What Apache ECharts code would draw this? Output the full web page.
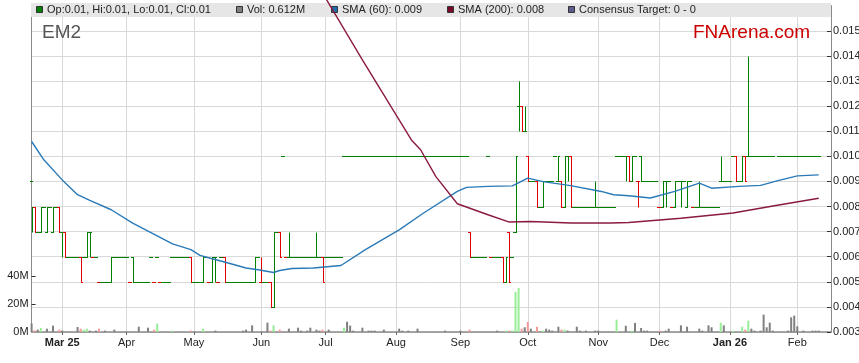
<!DOCTYPE html>
<html>
<head>
<meta charset="utf-8">
<script src="https://cdn.jsdelivr.net/npm/echarts@6/dist/echarts.min.js"></script>
<style>html,body{margin:0;padding:0;background:#fff}#c{width:859px;height:363px}</style>
</head>
<body>
<div id="c"></div>
<script>
// ---- data ----
const startDate = '2025-02-17';   // first weekday on the axis
const dayCount = 262;             // weekdays on the axis
const tickDates  = ['2025-03-03','2025-04-01','2025-05-01','2025-06-02','2025-07-01','2025-08-01','2025-09-01','2025-10-01','2025-11-03','2025-12-01','2026-01-01','2026-02-02'];
const tickLabels = ['Mar 25','Apr','May','Jun','Jul','Aug','Sep','Oct','Nov','Dec','Jan 26','Feb'];
const boldLabels = ['Mar 25','Jan 26'];

// daily bars by weekday index: [day, open, high, low, close] or [day, price] for a one-price day
const bars = [
[0,.009,.008,.007,.008],[1,.008,.008,.007,.007],[2,.007],[3,.007,.008,.007,.008],[4,.008],
[5,.007,.008,.007,.008],[6,.008],[7,.007,.008,.007,.008],[8,.008],[9,.008,.008,.007,.007],
[10,.007,.007,.006,.007],[11,.007,.007,.006,.006],[12,.006],[13,.006],[14,.006],
[15,.006],[16,.006,.006,.005,.005],[17,.006],[18,.006,.007,.006,.007],[19,.007,.007,.006,.007],
[20,.006],[21,.006],[22,.005],[23,.005],[24,.005],
[25,.005],[26,.005,.006,.005,.006],[27,.006],[28,.006],[29,.006],
[30,.006],[31,.006],[32,.005],[33,.006,.006,.005,.005],[34,.005],
[35,.005],[36,.005],[37,.005],[38,.005],[39,.006],
[40,.005],[41,.006],[42,.005],[43,.005],[44,.005],
[45,.005],[46,.006],[47,.006],[48,.006],[49,.006],
[50,.006],[51,.006],[52,.006,.006,.005,.005],[53,.005],[54,.005],
[55,.005],[56,.005,.006,.005,.006],[57,.006],[58,.005],[59,.005,.006,.005,.006],
[60,.006,.006,.005,.006],[61,.005],[62,.006],[63,.006,.006,.005,.005],[64,.005],
[65,.005],[66,.005],[67,.005],[68,.005],[69,.005],
[70,.005],[71,.005],[72,.005],[73,.005,.006,.005,.006],[74,.006],
[75,.005,.006,.005,.005],[76,.005],[77,.005],[78,.005,.005,.004,.004],[79,.004,.007,.004,.007],
[80,.007],[81,.007,.007,.006,.006],[82,.010],[83,.006],[84,.006,.007,.006,.006],
[85,.006],[86,.006],[87,.006],[88,.006],[89,.006],
[90,.006],[91,.006],[92,.006],[93,.006,.007,.006,.006],[94,.006],
[95,.006,.006,.005,.005],[96,.006],[97,.006],[98,.006],[99,.006],
[100,.006],[101,.006],[102,.010],[103,.010],[104,.010],
[105,.010],[106,.010],[107,.010],[108,.010],[109,.010],
[110,.010],[111,.010],[112,.010],[113,.010],[114,.010],
[115,.010],[116,.010],[117,.010],[118,.010],[119,.010],
[120,.010],[121,.010],[122,.010],[123,.010],[124,.010],
[125,.010],[126,.010],[127,.010],[128,.010],[129,.010],
[130,.010],[131,.010],[132,.010],[133,.010],[134,.010],
[135,.010],[136,.010],[137,.010],[138,.010],[139,.010],
[140,.010],[141,.010],[142,.010],[143,.007,.007,.006,.006],[144,.006],
[145,.006],[146,.006],[147,.006],[148,.006],[149,.010],
[150,.006],[151,.006],[152,.006],[153,.006],[154,.006,.006,.005,.005],
[155,.005,.006,.005,.006],[156,.007,.007,.005,.005],[157,.006],[158,.007,.010,.007,.010],[159,.012,.013,.011,.012],
[160,.012,.012,.011,.011],[161,.011,.012,.011,.011],[162,.010,.010,.009,.009],[163,.009],[164,.009],
[165,.009,.009,.008,.008],[166,.008],[167,.008,.009,.008,.009],[168,.009],[169,.009],
[170,.009],[171,.010],[172,.009,.010,.009,.010],[173,.009,.009,.008,.008],[174,.008,.010,.008,.010],
[175,.010,.010,.009,.010],[176,.010,.010,.008,.008],[177,.008],[178,.008],[179,.008],
[180,.008],[181,.008],[182,.008],[183,.008],[184,.008,.009,.008,.008],
[185,.008],[186,.008],[187,.008],[188,.008],[189,.008],
[190,.008],[191,.010],[192,.010],[193,.010],[194,.010,.010,.009,.010],
[195,.010,.010,.009,.009],[196,.009,.010,.009,.010],[197,.010],[198,.009,.009,.008,.009],[199,.010,.010,.009,.009],
[200,.009],[201,.009],[202,.009],[203,.009],[204,.009],
[205,.008],[206,.008,.009,.008,.009],[207,.009,.009,.008,.009],[208,.009],[209,.008],
[210,.008,.009,.008,.009],[211,.009],[212,.009,.009,.008,.009],[213,.009],[214,.008,.009,.008,.009],
[215,.009],[216,.008],[217,.008],[218,.008,.009,.008,.008],[219,.008],
[220,.008],[221,.008],[222,.008],[223,.008],[224,.008],
[225,.009,.010,.009,.009],[226,.009],[227,.009],[228,.009],[229,.010],
[230,.010,.010,.009,.009],[231,.009],[232,.009,.010,.009,.010],[233,.010,.010,.009,.009],[234,.010,.014,.010,.010],
[235,.010],[236,.010],[237,.010],[238,.010],[239,.010],
[240,.010],[241,.010],[242,.010],[244,.010],
[245,.010],[246,.010],[247,.010],[248,.010],[249,.010],
[250,.010],[251,.010],[252,.010],[253,.010],[254,.010],
[255,.010],[256,.010],[257,.010]
];

// daily volume, millions of shares (day 0 .. 257)
const volume = [
6.2,1.2,1.7,2.9,0,2.4,0,4.6,0,1.7, 1.0,0,0,0,0,3.6,2.4,1.7,2.4,1.0,
0,1.0,2.4,0,1.0,0,0,1.7,0,0, 0,0,0,0,0,3.8,0,0,3.1,0,
1.7,6.0,0,0,0,0,1.0,0,0,0, 0,0,1.0,0,0,0,2.4,0,0,0,
1.0,0,0,0,0,0,0,0,0,1.0, 1.7,0,4.8,0,0,0,0,6.7,1.0,4.8,
0,1.7,0,0,2.4,0,0,3.1,1.0,0, 1.0,3.1,0,1.7,1.0,1.7,0,1.7,0,0,
0,0,3.1,7.4,4.6,1.0,0,0,3.1,0, 1.0,1.0,1.0,0,0,1.7,0,0,0,0,
2.4,1.0,0,1.0,0,0,2.4,0,0,0, 0,0,0,0,0,1.0,0,0,0,0,
1.0,0,0,1.7,0,0,0,0,0,0, 0,0,1.0,0,0,1.0,1.0,1.0,28.8,31.7,
2.4,3.4,7.2,2.4,0,3.8,0,1.0,2.4,1.7, 1.0,0,3.8,1.7,1.7,1.0,0,0,3.8,1.0,
0,1.0,0,0,1.0,1.0,0,0,0,0, 0,8.9,0,0,4.5,0,1.0,6.5,0,2.9,
1.0,1.0,0,0,0,1.0,0,1.0,2.4,0, 0,0,4.8,0,3.8,0,0,0,2.4,1.0,
0,4.8,3.4,0,0,6.7,4.8,0,0,1.0, 0,0,3.8,1.7,8.2,2.4,1.0,0,1.0,12.5,
3.4,6.7,1.0,0,0,0,0,1.0,10.6,11.8, 4.1,0,1.0,0,0,1.0,1.0,1.0
];

// moving averages read at sample days: [day index, value]
const sma60 = [[0,0.01059],[4,0.00986],[10,0.00906],[15,0.00847],[19,0.00824],[26,0.00787],[33,0.00734],[41,0.00683],[46,0.00651],[52,0.00628],[55,0.00605],[59,0.00592],[63,0.00579],[70,0.00555],[74,0.00548],[79,0.00537],[81,0.00545],[85,0.00553],[92,0.00555],[101,0.00565],[109,0.00628],[120,0.00707],[128,0.00774],[139,0.00860],[142,0.00876],[149,0.00880],[157,0.00882],[162,0.00913],[167,0.00899],[176,0.00883],[186,0.00860],[190,0.00847],[195,0.00843],[202,0.00834],[210,0.00860],[218,0.00893],[222,0.00873],[231,0.00880],[238,0.00884],[244,0.00904],[250,0.00922],[257,0.00926]];
const sma200 = [[96,0.01630],[108,0.01384],[124,0.01065],[127,0.01026],[132,0.00919],[139,0.00811],[149,0.00767],[156,0.00738],[163,0.00740],[176,0.00734],[189,0.00734],[195,0.00736],[212,0.00753],[229,0.00774],[243,0.00804],[257,0.00833]];

const legendItems = [
  {text:'Op:0.01, Hi:0.01, Lo:0.01, Cl:0.01', color:'#008000', x:36},
  {text:'Vol: 0.612M', color:'#808080', x:236},
  {text:'SMA (60): 0.009', color:'#1f6fae', x:331},
  {text:'SMA (200): 0.008', color:'#7a0a2c', x:447},
  {text:'Consensus Target: 0 - 0', color:'#5c5c8c', x:568}
];

// ---- build ----
const categories = [];
{
  const d = new Date(startDate + 'T00:00:00Z');
  while (categories.length < dayCount) {
    const wd = d.getUTCDay();
    if (wd !== 0 && wd !== 6) categories.push(d.toISOString().slice(0, 10));
    d.setUTCDate(d.getUTCDate() + 1);
  }
}
const tickSet = new Set(tickDates);
const labelOf = {};
tickDates.forEach((t, k) => labelOf[t] = tickLabels[k]);

const byDay = {};
bars.forEach(b => { byDay[b[0]] = b.length === 2 ? [b[1], b[1], b[1], b[1]] : b.slice(1); });

const ohlc = [];
const volData = [];
let prevClose = null;
for (let i = 0; i < volume.length; i++) {
  const b = byDay[i];
  let dir = 0;
  if (b) {
    if (prevClose !== null) dir = b[3] > prevClose ? 1 : (b[3] < prevClose ? -1 : 0);
    ohlc.push([i, b[0], b[1], b[2], b[3], dir < 0 ? 0 : 1]);
    prevClose = b[3];
  }
  volData.push({value: [i, volume[i]], itemStyle: {color: dir > 0 ? '#98ee98' : (dir < 0 ? '#f49a9a' : '#808080')}});
}

const FONT = 'Arial, "Liberation Sans", sans-serif';
const graphics = [
  {type:'rect', z:5, shape:{x:31, y:3, width:800, height:14}, style:{fill:'#e6e6e6'}},
  {type:'text', z:6, left:42, top:23, style:{text:'EM2', fill:'#555', font:'19px ' + FONT}},
  {type:'text', z:6, left:693, top:23, style:{text:'FNArena.com', fill:'#cc0000', font:'19px ' + FONT}}
];
legendItems.forEach(it => {
  graphics.push({type:'rect', z:6, shape:{x:it.x + 0.5, y:6.5, width:6, height:6}, style:{fill:it.color, stroke:'#333', lineWidth:1}});
  graphics.push({type:'text', z:6, x:it.x + 11, y:10, style:{text:it.text, fill:'#222', font:'11px ' + FONT, verticalAlign:'middle'}});
});

const chart = echarts.init(document.getElementById('c'), null, {renderer:'canvas'});
chart.setOption({
  animation: false,
  backgroundColor: '#fff',
  grid: {left: 31.6, right: 28, top: 5.7, bottom: 31, containLabel: false, outerBoundsMode: 'none'},
  graphic: graphics,
  xAxis: {
    type: 'category',
    data: categories,
    boundaryGap: false,
    axisLine: {lineStyle: {color: '#8a8a8a', width: 1.5}},
    axisTick: {show: true, length: 3, interval: (i, v) => tickSet.has(v), lineStyle: {color: '#666'}},
    axisLabel: {
      interval: (i, v) => tickSet.has(v),
      margin: 5,
      fontSize: 11, fontFamily: FONT, color: '#222',
      formatter: v => boldLabels.includes(labelOf[v]) ? '{b|' + labelOf[v] + '}' : (labelOf[v] || ''),
      rich: {b: {fontWeight: 'bold', fontSize: 11, fontFamily: FONT, color: '#222'}}
    },
    splitLine: {show: true, interval: (i, v) => tickSet.has(v), lineStyle: {color: '#d9d9d9', width: 1}}
  },
  yAxis: [
    {
      type: 'value', position: 'right', min: 0.003, max: 0.016, interval: 0.001,
      axisLine: {show: true, lineStyle: {color: '#8a8a8a'}},
      axisTick: {show: true, inside: true, length: 4, lineStyle: {color: '#333'}},
      axisLabel: {margin: 2, fontSize: 11, fontFamily: FONT, color: '#222', showMaxLabel: false,
        formatter: v => v.toFixed(3)},
      splitLine: {show: true, lineStyle: {color: '#d9d9d9', width: 1}}
    },
    {
      type: 'value', position: 'left', min: 0, max: 234.7,
      axisLine: {show: true, lineStyle: {color: '#8a8a8a'}},
      axisTick: {show: true, inside: true, length: 4, customValues: [20, 40], lineStyle: {color: '#333'}},
      axisLabel: {customValues: [0, 20, 40], margin: 3, fontSize: 11, fontFamily: FONT, color: '#222',
        formatter: v => Math.round(v) + 'M'},
      splitLine: {show: false}
    }
  ],
  series: [
    {
      type: 'bar', yAxisIndex: 1, data: volData, barWidth: 2, z: 2, silent: true
    },
    {
      type: 'custom', yAxisIndex: 0, data: ohlc, z: 4, clip: false, silent: true,
      encode: {x: 0, y: [1, 2, 3, 4]},
      renderItem: function (params, api) {
        const i = api.value(0);
        const pO = api.coord([i, api.value(1)]);
        const pH = api.coord([i, api.value(2)]);
        const pL = api.coord([i, api.value(3)]);
        const pC = api.coord([i, api.value(4)]);
        const up = api.value(5);
        const w = api.size([1, 0])[0];
        const cx = pO[0];
        const x = Math.round(cx) + 0.5;
        const xl = Math.floor(cx - w / 2);
        const xr = Math.ceil(cx + w / 2);
        const r = v => Math.round(v) + 0.5;
        const col = up ? '#008000' : '#e00000';
        const st = {stroke: col, lineWidth: 1};
        const ch = [];
        if (Math.abs(pH[1] - pL[1]) > 0.5) ch.push({type: 'line', shape: {x1: x, y1: r(pH[1]), x2: x, y2: r(pL[1])}, style: st});
        ch.push({type: 'line', shape: {x1: xl, y1: r(pO[1]), x2: x + 0.5, y2: r(pO[1])}, style: st});
        ch.push({type: 'line', shape: {x1: x - 0.5, y1: r(pC[1]), x2: xr, y2: r(pC[1])}, style: st});
        return {type: 'group', children: ch};
      }
    },
    {
      type: 'line', yAxisIndex: 0, data: sma60, showSymbol: false, z: 8, silent: true,
      lineStyle: {color: '#2a7ab8', width: 1.4}
    },
    {
      type: 'line', yAxisIndex: 0, data: sma200, showSymbol: false, z: 8, silent: true, clip: false,
      lineStyle: {color: '#8a1a40', width: 1.4}
    }
  ]
});
</script>
</body>
</html>
